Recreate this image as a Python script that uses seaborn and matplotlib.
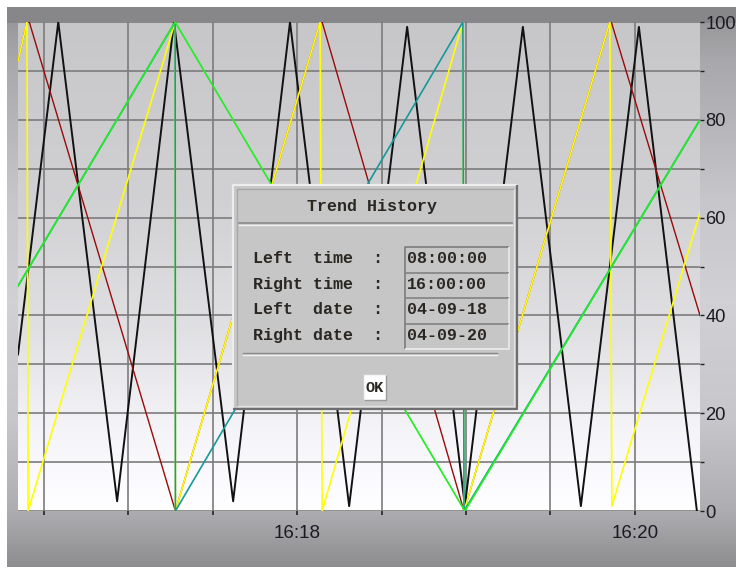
import numpy as np
import pandas as pd
import seaborn as sns
import matplotlib
matplotlib.use("Agg")
import matplotlib.pyplot as plt
import matplotlib.dates as mdates
import matplotlib.patches as mpatches

# trend pens: sample times (16:16 .. 16:20) and values in %
day = "2004-09-20 "

black_t = ["16:16:20.9", "16:16:35.2", "16:16:56.1", "16:17:16.3", "16:17:37.3", "16:17:57.5",
           "16:18:18.5", "16:18:39.1", "16:18:59.6", "16:19:20.2", "16:19:40.8", "16:20:01.4",
           "16:20:22.0"]
black_v = [32, 100, 2, 100, 2, 100, 1, 99, 1, 99, 1, 99, 0]

red_t = ["16:16:20.9", "16:16:24.1", "16:16:24.9", "16:17:16.8", "16:18:08.2", "16:18:08.9",
         "16:18:59.3", "16:19:51.1", "16:19:51.6", "16:20:23.1"]
red_v = [92, 100, 100, 0, 100, 100, 0, 100, 100, 40]

yellow_t = ["16:16:20.9", "16:16:24.1", "16:16:24.5", "16:17:16.7", "16:17:16.8", "16:18:08.2",
            "16:18:08.9", "16:18:58.9", "16:18:59.3", "16:19:51.1", "16:19:51.8", "16:20:23.1"]
yellow_v = [92, 100, 0, 100, 0, 100, 0, 100, 0, 100, 1, 61]

teal_t = ["16:16:20.9", "16:17:16.7", "16:17:16.8", "16:18:58.9", "16:18:59.3", "16:20:23.1"]
teal_v = [46, 100, 0, 100, 0, 80]

green_t = ["16:16:20.9", "16:17:16.7", "16:18:59.6", "16:20:23.1"]
green_v = [46, 100, 0, 80]

pens = [("black", black_t, black_v, "#111111", 1.4),
        ("red", red_t, red_v, "#9a0a0a", 1.0),
        ("yellow", yellow_t, yellow_v, "#ffff00", 1.2),
        ("teal", teal_t, teal_v, "#139a9a", 1.2),
        ("green", green_t, green_v, "#22ee22", 1.25)]

left_time = "16:16:20.9"
right_time = "16:20:23.1"

plt.rcParams['font.family'] = ['Liberation Sans', 'DejaVu Sans']

W, H = 736, 571
fig = plt.figure(figsize=(W / 100, H / 100), dpi=100)

# background: grey frame gradient + light plot area gradient
rows = np.arange(H)
frame = np.interp(rows, [7, 22, 23, 60, 200, 300, 420, 511, 567],
                  [0.53, 0.53, 0.60, 0.66, 0.78, 0.82, 0.78, 0.68, 0.55])
plot_bg = np.interp(rows, [22, 200, 330, 430, 511], [0.78, 0.82, 0.88, 0.96, 1.0])
img = np.ones((H, W, 3))
img[7:567, 7:, :] = frame[7:567, None, None]
img[7:567, 7:, 2] = np.clip(frame[7:567, None] * 1.02, 0, 1)
img[22:511, 18:700, :] = plot_bg[22:511, None, None]
img[22:511, 18:700, 2] = np.clip(plot_bg[22:511, None] * 1.015, 0, 1)
bg = fig.add_axes([0, 0, 1, 1], zorder=-10)
bg.imshow(img, aspect='auto', interpolation='bilinear')
bg.axis('off')

ax = fig.add_axes([18 / W, 1 - 511 / H, 682 / W, 489 / H])
ax.set_facecolor('none')

for name, ts, vs, col, lw in pens:
    d = pd.DataFrame({'time': pd.to_datetime([day + t for t in ts]), 'value': vs})
    sns.lineplot(data=d, x='time', y='value', color=col, linewidth=lw,
                 estimator=None, sort=False, ax=ax)

ax.set_xlim(pd.Timestamp(day + left_time), pd.Timestamp(day + right_time))
ax.set_ylim(0, 100)
ax.xaxis.set_major_locator(mdates.MinuteLocator(byminute=range(0, 60, 2)))
ax.xaxis.set_minor_locator(mdates.SecondLocator(bysecond=[0, 30]))
ax.xaxis.set_major_formatter(mdates.DateFormatter('%H:%M'))
ax.yaxis.tick_right()
ax.set_yticks(range(0, 101, 20))
ax.set_yticks(range(10, 100, 20), minor=True)
ax.grid(True, which='both', color='#7c7c7c', lw=1.2)
ax.set_axisbelow(True)
for s in ax.spines.values():
    s.set_visible(False)
ax.tick_params(axis='x', which='both', direction='out', length=3, width=1.2,
               color='#222222', pad=7, labelsize=13.5, labelcolor='#1a1a22')
ax.tick_params(axis='y', which='both', direction='out', length=3, width=1.0,
               color='#222222', pad=1, labelsize=13.2, labelcolor='#1a1a22')
ax.set_xlabel('')
ax.set_ylabel('')

# "Trend History" dialog on top of the chart
dl = fig.add_axes([0, 0, 1, 1], zorder=10)
dl.set_xlim(0, W)
dl.set_ylim(H, 0)
dl.axis('off')


def box(x0, y0, x1, y1, fc):
    dl.add_patch(mpatches.Rectangle((x0, y0), x1 - x0, y1 - y0, fc=fc, ec='none'))


def bevel(x0, y0, x1, y1, light, dark, lw):
    dl.plot([x0, x0, x1], [y1, y0, y0], color=light, lw=lw, solid_capstyle='butt')
    dl.plot([x0, x1, x1], [y1, y1, y0], color=dark, lw=lw, solid_capstyle='butt')


box(233, 185, 517, 409, '#c6c6c6')
bevel(233, 185, 517, 409, '#ececec', '#6e6e6e', 1.6)
bevel(236.5, 188.5, 513.5, 405.5, '#a8a8a8', '#e2e2e2', 1.0)

dl.plot([239, 512], [223, 223], color='#8a8a8a', lw=1.2)
dl.plot([239, 512], [225, 225], color='#f0f0f0', lw=1.0)
dl.plot([243, 497], [353, 353], color='#8a8a8a', lw=1.0)
dl.plot([243, 497], [355, 355], color='#f0f0f0', lw=1.0)

mono = dict(family=['Liberation Mono', 'DejaVu Sans Mono'], weight='bold', color='#2a2622')
dl.text(372, 207, "Trend History", ha='center', va='center', size=12, **mono)

labels = ["Left  time  :", "Right time  :", "Left  date  :", "Right date  :"]
values = ["08:00:00", "16:00:00", "04-09-18", "04-09-20"]
row_top = [247, 272.5, 298, 323.5]
for lab, val, y0 in zip(labels, values, row_top):
    y1 = y0 + 25.5
    bevel(405, y0, 509, y1, '#7c7c7c', '#ececec', 1.2)
    dl.text(253, (y0 + y1) / 2 - 1, lab, ha='left', va='center', size=12, **mono)
    dl.text(407, (y0 + y1) / 2 - 1, val, ha='left', va='center', size=12, **mono)

box(364, 375, 386, 400, 'white')
bevel(364, 375, 386, 400, '#f4f4f4', '#9a9a9a', 1.0)
dl.text(375, 387.5, "OK", ha='center', va='center', size=11, **mono)

fig.savefig("out.png", dpi=100)
